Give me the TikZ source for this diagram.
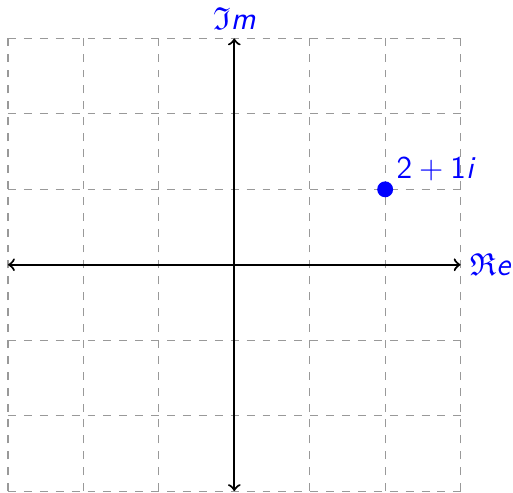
\documentclass[tikz,border=0pt]{standalone}
\usepackage{amsmath}
\usepackage{amssymb}
\usepackage{tikz}
\usetikzlibrary{arrows, positioning}

\begin{document}
\begin{tikzpicture}[
    x=1cm, y=1cm,
    grid line/.style={gray!80,dashed,thin},
    axis line/.style={<->,>=to,thick},
    point node/.style={circle,fill=blue,inner sep=0pt,minimum size=6pt},
    label node/.style={text=blue,font=\sffamily\large}
]
\useasboundingbox (-3.106,-3.02) rectangle (3.695,3.51);

\draw[grid line] (-3,-3) grid (3,3);

\coordinate (xmin) at (-3,0);
\coordinate (xmax) at (3,0);
\coordinate (ymin) at (0,-3);
\coordinate (ymax) at (0,3);

\draw[axis line] (xmin) -- (xmax);
\draw[axis line] (ymin) -- (ymax);

\node[label node, right=0pt of xmax] (re) {$\mathfrak{R}$\textit{e}};
\node[label node, above=0pt of ymax] (im) {$\mathfrak{I}$\textit{m}};

\node[point node] (z) at (2,1) {};
\node[label node, above right=-2.5pt and -1.5pt of z] (zlabel) {2${}+{}$1\textit{i}};

\end{tikzpicture}
\end{document}
